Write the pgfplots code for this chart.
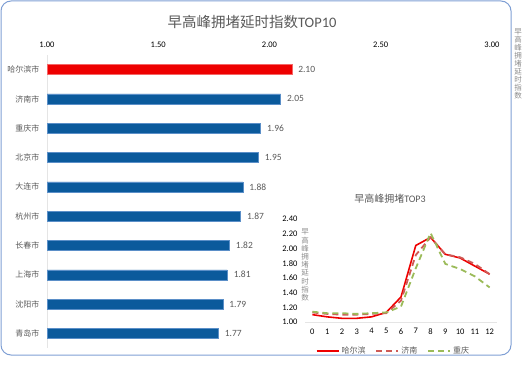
\documentclass[border=0pt]{standalone}
\usepackage{pgfplots}
\pgfplotsset{compat=1.18}
\usepackage{fontspec}
\setmainfont{Carlito}
\newfontfamily\cjk{Noto Sans CJK SC}
\definecolor{barblue}{HTML}{0B5A9C}
\definecolor{barblueedge}{HTML}{5B8FC8}
\definecolor{barred}{HTML}{EE0000}
\definecolor{jinan}{HTML}{CF5A56}
\definecolor{cq}{HTML}{9BBB59}
\definecolor{framec}{HTML}{7F9FD4}
\definecolor{txt}{HTML}{595959}
\definecolor{tick}{HTML}{8C8C8C}
\begin{document}
\begin{tikzpicture}[x=1pt,y=1pt]
\useasboundingbox (0,0) rectangle (529,364);
\draw[framec, line width=1pt, rounded corners=10pt] (1,9) rectangle (511,363);
\node[txt, font=\cjk\fontsize{14.5}{16}\selectfont] at (252,342) {早高峰拥堵延时指数\fontspec{Carlito}TOP10};
\node[tick, font=\cjk\fontsize{7.5}{8}\selectfont, align=center, inner sep=0pt] at (518,300) {早\\高\\峰\\拥\\堵\\延\\时\\指\\数};
\begin{axis}[
  at={(47pt,16pt)}, anchor=south west, scale only axis,
  width=445pt, height=293pt,
  xmin=1, xmax=3, ymin=-0.5, ymax=9.5, y dir=reverse,
  xbar, bar width=10pt,
  axis x line=top, axis y line=left,
  x axis line style={draw=none},
  y axis line style={-, draw=gray!20, line width=0.8pt},
  xtick={1,1.5,2,2.5,3},
  major tick length=0pt,
  /pgf/number format/assume math mode=true,
  xticklabel={\pgfmathprintnumber[fixed,fixed zerofill,precision=2]{\tick}},
  xticklabel style={tick, font=\fontsize{8.5}{10}\selectfont, yshift=4pt},
  ytick={0,...,9},
  yticklabels={哈尔滨市,济南市,重庆市,北京市,大连市,杭州市,长春市,上海市,沈阳市,青岛市},
  yticklabel style={txt, font=\cjk\fontsize{8}{9}\selectfont, xshift=-4pt},
  nodes near coords,
  nodes near coords style={txt, font=\fontsize{9.5}{11}\selectfont, xshift=3pt,
    /pgf/number format/.cd, fixed, fixed zerofill, precision=2, assume math mode=true},
  clip=true,
]
\addplot[bar shift=0pt, fill=barred, draw=barred!60!white] coordinates {(2.10,0)};
\addplot[bar shift=0pt, fill=barblue, draw=barblueedge] coordinates {
(2.05,1) (1.96,2) (1.95,3) (1.88,4) (1.87,5) (1.82,6) (1.81,7) (1.79,8) (1.77,9)};
\end{axis}
\node[txt, font=\cjk\fontsize{10}{12}\selectfont] at (390,165) {早高峰拥堵\fontspec{Carlito}TOP3};
\node[tick, font=\cjk\fontsize{7.5}{8.2}\selectfont, align=center, inner sep=0pt] at (305,99) {早\\高\\峰\\拥\\堵\\延\\时\\指\\数};
\begin{axis}[
  at={(305pt,42pt)}, anchor=south west, scale only axis,
  width=192pt, height=103pt,
  xmin=-0.5, xmax=12.5, ymin=1, ymax=2.4,
  axis x line=bottom, axis y line=left,
  x axis line style={-, draw=gray!20, line width=0.8pt},
  y axis line style={draw=none},
  xtick={0,...,12}, major tick length=0pt,
  ytick={1,1.2,...,2.41},
  /pgf/number format/assume math mode=true,
  yticklabel={\pgfmathprintnumber[fixed,fixed zerofill,precision=2]{\tick}},
  xticklabel style={tick, font=\fontsize{8.5}{10}\selectfont, yshift=-3pt},
  yticklabel style={tick, font=\fontsize{8.5}{10}\selectfont, xshift=-4pt},
  clip=false,
  legend style={at={(0.461,-0.28)}, anchor=center, draw=none, fill=none,
    font=\cjk\fontsize{8}{9}\selectfont, text=txt,
    /tikz/every even column/.append style={column sep=8pt}},
  legend columns=3,
  legend image code/.code={\draw[#1] (0pt,0pt) -- (22pt,0pt);},
]
\addplot[barred, line width=1.6pt] coordinates {
(0,1.10) (1,1.07) (2,1.05) (3,1.05) (4,1.07) (5,1.13) (6,1.34) (7,2.04) (8,2.15) (9,1.92) (10,1.87) (11,1.76) (12,1.65)};
\addplot[jinan, line width=1.8pt, dash pattern=on 6pt off 4pt] coordinates {
(0,1.13) (1,1.11) (2,1.10) (3,1.10) (4,1.11) (5,1.12) (6,1.29) (7,1.91) (8,2.15) (9,1.92) (10,1.88) (11,1.79) (12,1.65)};
\addplot[cq, line width=1.8pt, dash pattern=on 6pt off 4pt] coordinates {
(0,1.14) (1,1.12) (2,1.12) (3,1.11) (4,1.12) (5,1.13) (6,1.21) (7,1.73) (8,2.21) (9,1.79) (10,1.72) (11,1.62) (12,1.47)};
\legend{哈尔滨,济南,重庆}
\end{axis}
\end{tikzpicture}
\end{document}
